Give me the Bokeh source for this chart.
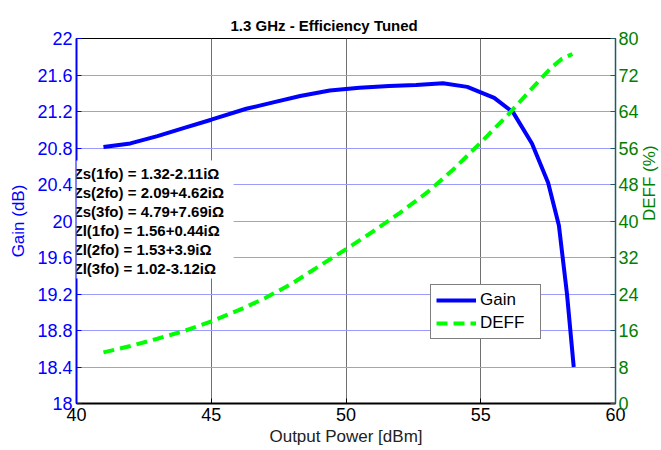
import math
from bokeh.plotting import figure
from bokeh.models import (Range1d, LinearAxis, FixedTicker, CustomJSTickFormatter,
                          Legend, LegendItem, BoxAnnotation, Label)
from bokeh.embed import file_html
from bokeh.resources import INLINE

# ---- data ----
gain_power = [41, 42, 43, 44, 45, 46.3, 47.3, 48.3, 49.4, 50.5, 51.6, 52.6, 53.6,
              54.5, 55.5, 56.2, 56.9, 57.5, 57.9, 58.2, 58.45]
gain_db = [20.81, 20.85, 20.93, 21.02, 21.11, 21.23, 21.30, 21.37, 21.43, 21.46, 21.48,
           21.49, 21.51, 21.47, 21.35, 21.19, 20.85, 20.42, 19.95, 19.20, 18.40]

deff_power = [41, 42, 43, 44, 45, 46, 47, 48, 49, 50, 51, 52, 53, 54, 55, 56, 56.8,
              57.6, 58.0, 58.4]
deff_pct = [11.2, 12.6, 14.2, 15.9, 18.0, 20.4, 23.1, 26.3, 30.1, 33.8, 37.7, 41.8,
            46.2, 51.4, 57.2, 63.2, 68.4, 73.5, 75.5, 76.6]

x_ticks = [40, 45, 50, 55, 60]
gain_ticks = [18, 18.4, 18.8, 19.2, 19.6, 20, 20.4, 20.8, 21.2, 21.6, 22]
deff_ticks = [0, 8, 16, 24, 32, 40, 48, 56, 64, 72, 80]

impedance_notes = [
    "Zs(1fo) = 1.32-2.11i\u03a9",
    "Zs(2fo) = 2.09+4.62i\u03a9",
    "Zs(3fo) = 4.79+7.69i\u03a9",
    "Zl(1fo) = 1.56+0.44i\u03a9",
    "Zl(2fo) = 1.53+3.9i\u03a9",
    "Zl(3fo) = 1.02-3.12i\u03a9",
]

title_text = "1.3 GHz - Efficiency Tuned"
right_label = "DEFF (%)"

FONT = "Liberation Sans"
BLUE = "#0000ff"
GREEN_TXT = "#008000"
GREEN_LINE = "#00ff00"

p = figure(frame_width=539, frame_height=365, output_backend="svg",
           toolbar_location=None,
           x_range=Range1d(40, 60), y_range=Range1d(18, 22),
           min_border_left=76, min_border_right=46, min_border_top=38,
           min_border_bottom=47, background_fill_color="white",
           border_fill_color="white")

p.title.text = title_text
p.title.align = "left"
p.title.offset = 154
p.title.text_font = FONT
p.title.text_font_size = "15px"
p.title.text_font_style = "bold"
p.title.text_color = "black"

p.outline_line_color = "black"
p.outline_line_width = 1

# grids
p.xgrid.ticker = FixedTicker(ticks=x_ticks)
p.xgrid.grid_line_color = "#707070"
p.xgrid.grid_line_width = 1
p.ygrid.ticker = FixedTicker(ticks=gain_ticks)
p.ygrid.grid_line_color = "#9c9cff"
p.ygrid.grid_line_width = 1

fmt = CustomJSTickFormatter(code="return String(Math.round(tick*10)/10);")

# x axis
xa = p.xaxis[0]
xa.ticker = FixedTicker(ticks=x_ticks)
xa.axis_label = "Output Power [dBm]"
xa.axis_label_text_font = FONT
xa.axis_label_text_font_size = "17px"
xa.axis_label_text_font_style = "normal"
xa.axis_label_text_color = "#222222"
xa.axis_label_standoff = 3
xa.major_label_text_font = FONT
xa.major_label_text_font_size = "18px"
xa.major_label_text_color = "black"
xa.major_label_standoff = 4
xa.axis_line_color = "black"
xa.axis_line_width = 2
xa.major_tick_in = 5
xa.major_tick_out = 0
xa.major_tick_line_color = "black"
xa.minor_tick_line_color = None

# left axis
ya = p.yaxis[0]
ya.ticker = FixedTicker(ticks=gain_ticks)
ya.formatter = fmt
ya.axis_label = "Gain (dB)"
ya.axis_label_text_font = FONT
ya.axis_label_text_font_size = "17px"
ya.axis_label_text_font_style = "normal"
ya.axis_label_text_color = BLUE
ya.axis_label_standoff = 6
ya.major_label_text_font = FONT
ya.major_label_text_font_size = "18px"
ya.major_label_text_color = BLUE
ya.major_label_standoff = 4
ya.axis_line_color = BLUE
ya.axis_line_width = 2
ya.major_tick_in = 5
ya.major_tick_out = 0
ya.major_tick_line_color = BLUE
ya.minor_tick_line_color = None

# right axis
p.extra_y_ranges = {"deff": Range1d(0, 80)}
ra = LinearAxis(y_range_name="deff", ticker=FixedTicker(ticks=deff_ticks),
                axis_label=right_label)
if "axis_label_orientation" in ra.properties():
    ra.axis_label_orientation = math.pi / 2
ra.axis_label_text_font = FONT
ra.axis_label_text_font_size = "17px"
ra.axis_label_text_font_style = "normal"
ra.axis_label_text_color = GREEN_TXT
ra.axis_label_standoff = 8
ra.major_label_text_font = FONT
ra.major_label_text_font_size = "18px"
ra.major_label_text_color = GREEN_TXT
ra.major_label_standoff = 3
ra.axis_line_color = "#1f5c66"
ra.axis_line_width = 1.5
ra.major_tick_in = 5
ra.major_tick_out = 0
ra.major_tick_line_color = "#1f5c66"
ra.minor_tick_line_color = None
p.add_layout(ra, "right")

# data lines
r_gain = p.line(gain_power, gain_db, line_color=BLUE, line_width=4)
r_deff = p.line(deff_power, deff_pct, y_range_name="deff", line_color=GREEN_LINE,
                line_width=4, line_dash="11 6")

# white text box behind impedance notes
box = BoxAnnotation(left=39.78, right=45.83, top=20.663, bottom=19.37,
                    fill_color="white", fill_alpha=1.0, line_color=None)
p.add_layout(box)

note_top = 20.52
note_step = 0.2085
for i, t in enumerate(impedance_notes):
    p.add_layout(Label(x=39.89, y=note_top - i * note_step, text=t,
                       text_font=FONT, text_font_size="15px",
                       text_font_style="bold", text_color="black",
                       text_baseline="middle", text_align="left"))

legend = Legend(items=[LegendItem(label="Gain", renderers=[r_gain]),
                       LegendItem(label="DEFF", renderers=[r_deff])],
                location=(354, 64), orientation="vertical",
                label_text_font=FONT, label_text_font_size="17px",
                label_text_color="black",
                glyph_width=40, glyph_height=20, label_height=20,
                label_width=55, label_standoff=4, spacing=3, padding=5,
                margin=0, border_line_color="black", border_line_width=1,
                background_fill_color="white", background_fill_alpha=1.0)
p.add_layout(legend)

open("out.html", "w").write(file_html(p, INLINE))
